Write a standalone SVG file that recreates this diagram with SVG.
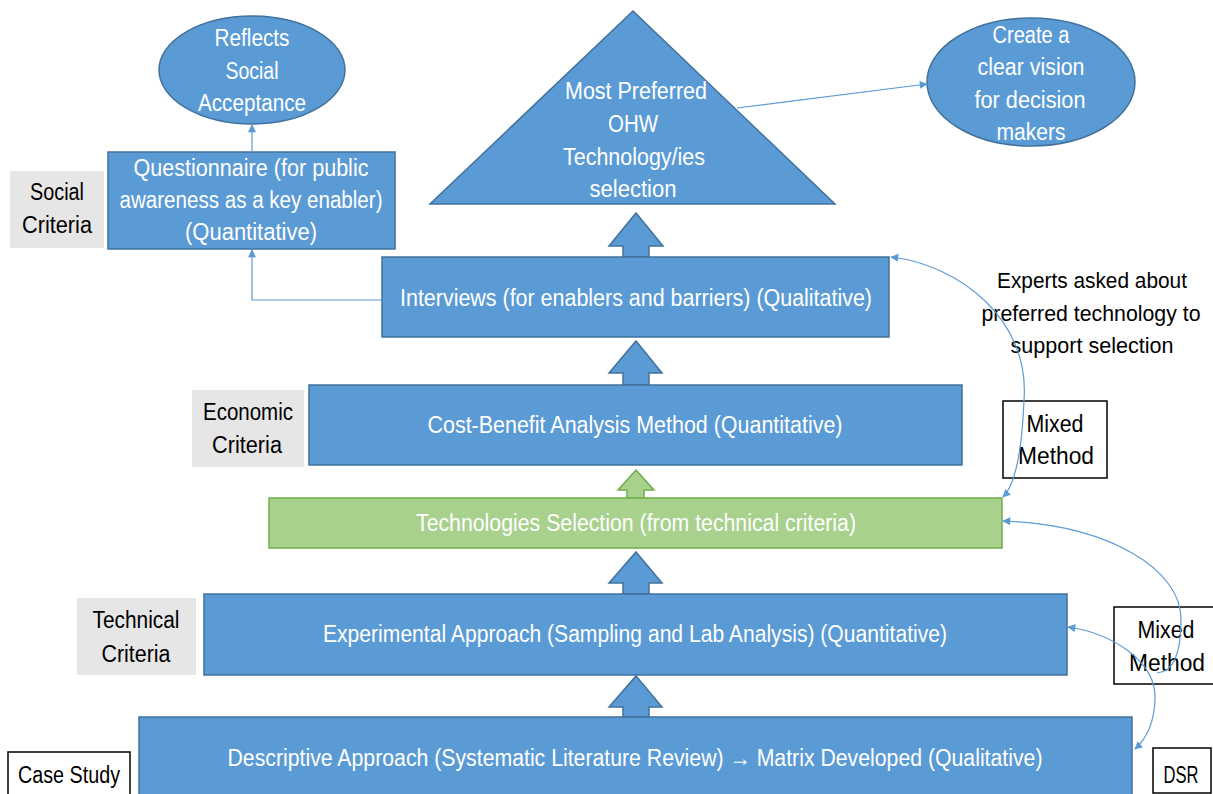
<svg xmlns="http://www.w3.org/2000/svg" width="1213" height="794" viewBox="0 0 1213 794">
<style>
.blue{fill:#5B9BD5;stroke:#41719C;stroke-width:1.5}
.green{fill:#A9D18E;stroke:#70AD47;stroke-width:1.5}
.gray{fill:#E7E6E6}
.wbox{fill:#FFFFFF;stroke:#000000;stroke-width:1.5}
.wt{fill:#FFFFFF;font-family:"Liberation Sans",Arial,sans-serif;font-size:23.5px;text-anchor:middle}
.bt{fill:#000000;font-family:"Liberation Sans",Arial,sans-serif;font-size:23.5px;text-anchor:middle}
.et{fill:#000000;font-family:"Liberation Sans",Arial,sans-serif;font-size:21.5px;text-anchor:middle}
.conn{fill:none;stroke:#5B9BD5;stroke-width:1.2}
</style>
<defs>
<marker id="ah" viewBox="0 0 10 10" refX="9" refY="5" markerWidth="9" markerHeight="8" markerUnits="userSpaceOnUse" orient="auto-start-reverse">
<path d="M0,0 L10,5 L0,10 z" fill="#5B9BD5"/>
</marker>
</defs>
<rect width="1213" height="794" fill="#FFFFFF"/>

<g id="reflects">
<ellipse class="blue" cx="252" cy="70" rx="93" ry="54"/>
<text class="wt" x="252" y="46" textLength="75" lengthAdjust="spacingAndGlyphs">Reflects</text>
<text class="wt" x="252" y="79" textLength="53" lengthAdjust="spacingAndGlyphs">Social</text>
<text class="wt" x="252" y="111" textLength="108" lengthAdjust="spacingAndGlyphs">Acceptance</text>
</g>

<g id="social-criteria">
<rect class="gray" x="10" y="171" width="94" height="77"/>
<text class="bt" x="57" y="200" textLength="54" lengthAdjust="spacingAndGlyphs">Social</text>
<text class="bt" x="57" y="233" textLength="70" lengthAdjust="spacingAndGlyphs">Criteria</text>
</g>

<g id="questionnaire">
<rect class="blue" x="108" y="152" width="287" height="97"/>
<text class="wt" x="251" y="176" textLength="235" lengthAdjust="spacingAndGlyphs">Questionnaire (for public</text>
<text class="wt" x="251" y="208" textLength="263" lengthAdjust="spacingAndGlyphs">awareness as a key enabler)</text>
<text class="wt" x="251" y="240" textLength="132" lengthAdjust="spacingAndGlyphs">(Quantitative)</text>
</g>

<g id="most-preferred">
<polygon class="blue" points="633,11 835,204 430,204"/>
<text class="wt" x="636" y="99" textLength="142" lengthAdjust="spacingAndGlyphs">Most Preferred</text>
<text class="wt" x="633" y="132" textLength="50" lengthAdjust="spacingAndGlyphs">OHW</text>
<text class="wt" x="634" y="165" textLength="142" lengthAdjust="spacingAndGlyphs">Technology/ies</text>
<text class="wt" x="633" y="197" textLength="87" lengthAdjust="spacingAndGlyphs">selection</text>
</g>

<g id="clear-vision">
<ellipse class="blue" cx="1031" cy="82" rx="104" ry="64"/>
<text class="wt" x="1031" y="43" textLength="77" lengthAdjust="spacingAndGlyphs">Create a</text>
<text class="wt" x="1031" y="75" textLength="107" lengthAdjust="spacingAndGlyphs">clear vision</text>
<text class="wt" x="1030" y="108" textLength="111" lengthAdjust="spacingAndGlyphs">for decision</text>
<text class="wt" x="1031" y="140" textLength="69" lengthAdjust="spacingAndGlyphs">makers</text>
</g>

<g id="experts-label">
<text class="et" x="1092" y="288" textLength="190" lengthAdjust="spacingAndGlyphs">Experts asked about</text>
<text class="et" x="1091" y="321" textLength="219" lengthAdjust="spacingAndGlyphs">preferred technology to</text>
<text class="et" x="1092" y="353" textLength="163" lengthAdjust="spacingAndGlyphs">support selection</text>
</g>

<g id="arrow1">
<polygon class="blue" points="636,213 663,246 649,246 649,257 623,257 623,246 609,246"/>
</g>

<g id="interviews">
<rect class="blue" x="382" y="257" width="507" height="80"/>
<text class="wt" x="636" y="306" textLength="472" lengthAdjust="spacingAndGlyphs">Interviews (for enablers and barriers) (Qualitative)</text>
</g>

<g id="arrow2">
<polygon class="blue" points="636,341 662,373 649,373 649,385 623,385 623,373 609,373"/>
</g>

<g id="economic-criteria">
<rect class="gray" x="192" y="390" width="112" height="77"/>
<text class="bt" x="248" y="420" textLength="90" lengthAdjust="spacingAndGlyphs">Economic</text>
<text class="bt" x="247" y="453" textLength="70" lengthAdjust="spacingAndGlyphs">Criteria</text>
</g>

<g id="cost-benefit">
<rect class="blue" x="309" y="385" width="653" height="80"/>
<text class="wt" x="635" y="433" textLength="415" lengthAdjust="spacingAndGlyphs">Cost-Benefit Analysis Method (Quantitative)</text>
</g>

<g id="mixed-method-1">
<rect class="wbox" x="1003" y="401" width="104" height="77"/>
<text class="bt" x="1055" y="432" textLength="57" lengthAdjust="spacingAndGlyphs">Mixed</text>
<text class="bt" x="1056" y="464" textLength="76" lengthAdjust="spacingAndGlyphs">Method</text>
</g>

<g id="arrow3">
<polygon class="green" points="636,470 654,490 644,490 644,498 627,498 627,490 618,490"/>
</g>

<g id="tech-selection">
<rect class="green" x="269" y="498" width="733" height="50"/>
<text class="wt" x="636" y="531" textLength="440" lengthAdjust="spacingAndGlyphs">Technologies Selection (from technical criteria)</text>
</g>

<g id="arrow4">
<polygon class="blue" points="636,552 662,583 649,583 649,594 623,594 623,583 609,583"/>
</g>

<g id="technical-criteria">
<rect class="gray" x="77" y="598" width="119" height="77"/>
<text class="bt" x="136" y="628" textLength="87" lengthAdjust="spacingAndGlyphs">Technical</text>
<text class="bt" x="136" y="662" textLength="69" lengthAdjust="spacingAndGlyphs">Criteria</text>
</g>

<g id="experimental">
<rect class="blue" x="204" y="594" width="863" height="81"/>
<text class="wt" x="635" y="642" textLength="624" lengthAdjust="spacingAndGlyphs">Experimental Approach (Sampling and Lab Analysis) (Quantitative)</text>
</g>

<g id="mixed-method-2">
<rect class="wbox" x="1114" y="607" width="101" height="77"/>
<text class="bt" x="1166" y="638" textLength="57" lengthAdjust="spacingAndGlyphs">Mixed</text>
<text class="bt" x="1167" y="671" textLength="76" lengthAdjust="spacingAndGlyphs">Method</text>
</g>

<g id="arrow5">
<polygon class="blue" points="636,676 662,707 649,707 649,717 623,717 623,707 609,707"/>
</g>

<g id="descriptive">
<rect class="blue" x="139" y="717" width="993" height="82"/>
<text class="wt" x="635" y="766" textLength="815" lengthAdjust="spacingAndGlyphs">Descriptive Approach (Systematic Literature Review) → Matrix Developed (Qualitative)</text>
</g>

<g id="case-study">
<rect class="wbox" x="8" y="752" width="122" height="50"/>
<text class="bt" x="69" y="783" textLength="102" lengthAdjust="spacingAndGlyphs">Case Study</text>
</g>

<g id="dsr">
<rect class="wbox" x="1153" y="748" width="58" height="45"/>
<text class="bt" x="1181" y="783" textLength="35" lengthAdjust="spacingAndGlyphs">DSR</text>
</g>

<g id="connectors">
<path class="conn" d="M252,152 L252,125" marker-end="url(#ah)"/>
<path class="conn" d="M382,300 L252,300 L252,250" marker-end="url(#ah)"/>
<path class="conn" d="M737,108 L927,84" marker-end="url(#ah)"/>
<path class="conn" d="M891,257 C960,265 1030,320 1024,400 C1022,450 1015,485 1003,497" marker-start="url(#ah)" marker-end="url(#ah)"/>
<path class="conn" d="M1003,521 C1110,525 1182,570 1181,620 C1181,650 1175,672 1157,673" marker-start="url(#ah)"/>
<path class="conn" d="M1068,627 C1110,633 1157,660 1155,700 C1154,725 1145,740 1135,749" marker-start="url(#ah)" marker-end="url(#ah)"/>
</g>
</svg>
